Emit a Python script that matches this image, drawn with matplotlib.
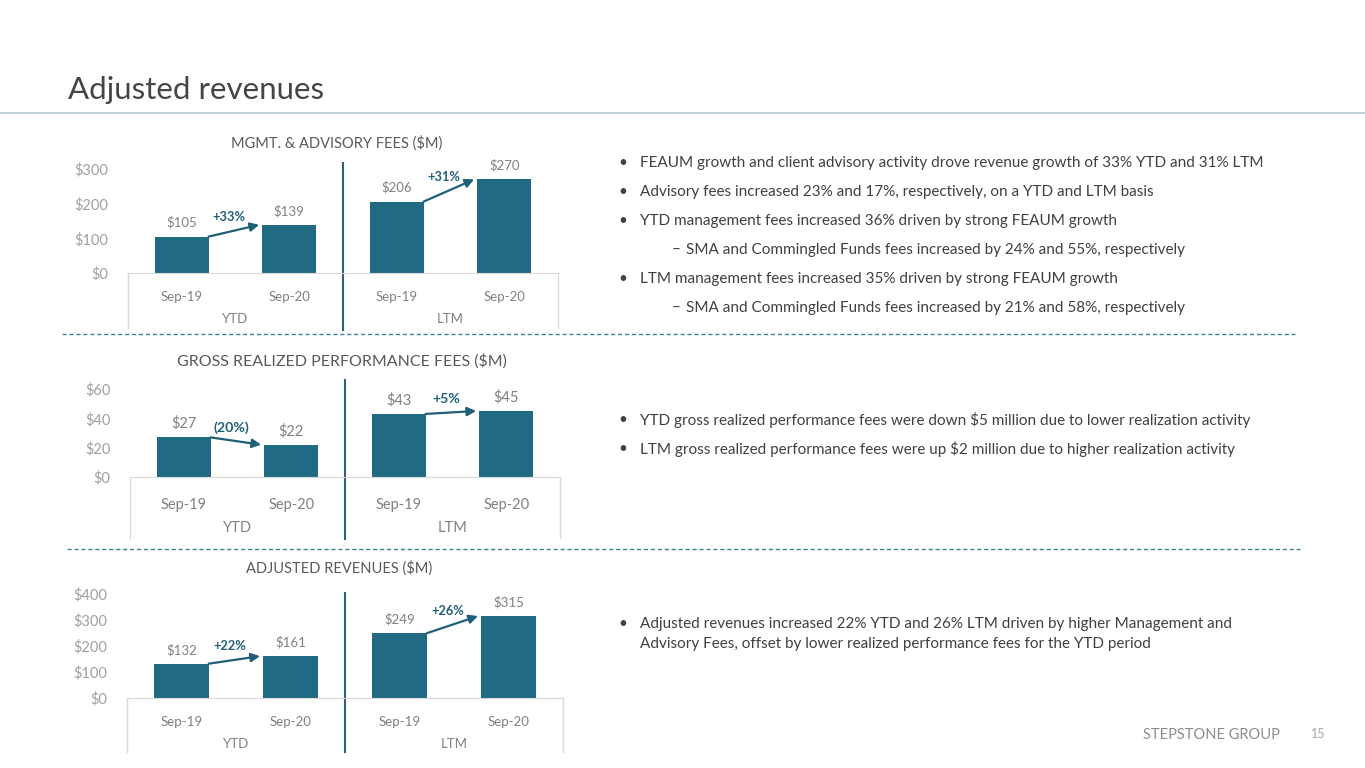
import matplotlib.pyplot as plt

# data
periods = ['Sep-19', 'Sep-20', 'Sep-19', 'Sep-20']
groups = ['YTD', 'LTM']

mgmt_fees = [105, 139, 206, 270]
mgmt_ticks = [0, 100, 200, 300]
mgmt_growth = ['+33%', '+31%']

perf_fees = [27, 22, 43, 45]
perf_ticks = [0, 20, 40, 60]
perf_growth = ['(20%)', '+5%']

adj_rev = [132, 161, 249, 315]
adj_ticks = [0, 100, 200, 300, 400]
adj_growth = ['+22%', '+26%']

bullets_top = [
    ('•', 'FEAUM growth and client advisory activity drove revenue growth of 33% YTD and 31% LTM'),
    ('•', 'Advisory fees increased 23% and 17%, respectively, on a YTD and LTM basis'),
    ('•', 'YTD management fees increased 36% driven by strong FEAUM growth'),
    ('–', 'SMA and Commingled Funds fees increased by 24% and 55%, respectively'),
    ('•', 'LTM management fees increased 35% driven by strong FEAUM growth'),
    ('–', 'SMA and Commingled Funds fees increased by 21% and 58%, respectively'),
]
bullets_mid = [
    ('•', 'YTD gross realized performance fees were down $5 million due to lower realization activity'),
    ('•', 'LTM gross realized performance fees were up $2 million due to higher realization activity'),
]
bullets_bot = [
    ('•', 'Adjusted revenues increased 22% YTD and 26% LTM driven by higher Management and\n'
          'Advisory Fees, offset by lower realized performance fees for the YTD period'),
]

BAR = '#216a84'
ARROW = '#1f5f78'
DIV = '#2b6278'
GRID = '#d9d9d9'
TXT = '#404040'

plt.rcParams['font.family'] = ['Lato', 'DejaVu Sans']

W, H = 1365, 768
fig = plt.figure(figsize=(W / 100, H / 100), dpi=100)


def rect(l, t, r, b):
    return [l / W, 1 - b / H, (r - l) / W, (b - t) / H]


def panel(box, title, title_x, title_y, values, ticks, growth, xpad,
          group_y, box_bottom, div_top, div_bottom, fs, yfs):
    l, t, r, b = box
    hpx = b - t
    ax = fig.add_axes(rect(l, t, r, b))
    xs = list(range(len(values)))
    ax.bar(xs, values, width=0.5, color=BAR, zorder=2)
    ax.set_xlim(-0.5, 3.5)
    ax.set_ylim(0, ticks[-1])
    ax.set_yticks(ticks)
    ax.set_yticklabels([f'${v}' for v in ticks])
    ax.set_xticks(xs)
    ax.set_xticklabels(periods)
    ax.tick_params(length=0)
    ax.tick_params(axis='y', pad=14, labelcolor='#a0a0a0', labelsize=yfs)
    ax.tick_params(axis='x', pad=xpad, labelcolor='#808080', labelsize=fs)
    for s in ['top', 'right', 'left']:
        ax.spines[s].set_visible(False)
    ax.spines['bottom'].set_color(GRID)
    ax.patch.set_alpha(0)

    for i, v in enumerate(values):
        ax.annotate(f'${v}', (i, v), xytext=(0, 10), textcoords='offset points',
                    ha='center', va='center', color='#808080', fontsize=fs)

    for k, i in enumerate([0, 2]):
        v1, v2 = values[i], values[i + 1]
        ax.annotate('', xy=(i + 0.72, v2), xytext=(i + 0.25, v1),
                    arrowprops=dict(arrowstyle='-|>', color=ARROW, lw=1.6,
                                    mutation_scale=13, shrinkA=0, shrinkB=0))
        ax.annotate(growth[k], (i + 0.44, (v1 + v2) / 2), xytext=(0, 10),
                    textcoords='offset points', ha='center', va='center',
                    color=ARROW, fontsize=fs - 0.3, fontweight='bold')

    for gx, g in zip([0.5, 2.5], groups):
        ax.annotate(g, (gx, 0), xycoords=('data', 'axes fraction'),
                    xytext=(0, -(group_y - b) * 0.72), textcoords='offset points',
                    ha='center', va='center', color='#808080', fontsize=fs)

    tr = ax.get_xaxis_transform()
    for xv in [-0.5, 3.5]:
        ax.plot([xv, xv], [0, -(box_bottom - b) / hpx], transform=tr,
                clip_on=False, color=GRID, lw=1)
    ax.plot([1.5, 1.5], [(b - div_top) / hpx, -(div_bottom - b) / hpx],
            transform=tr, clip_on=False, color=DIV, lw=1.5)

    fig.text(title_x / W, 1 - title_y / H, title, ha='center', va='center',
             color='#595959', fontsize=fs + 1)
    return ax


panel((128, 169, 558, 273), 'MGMT. & ADVISORY FEES ($M)', 337, 143,
      mgmt_fees, mgmt_ticks, mgmt_growth, 13, 319, 328, 163, 330, 9.5, 10.5)
panel((130, 389, 560, 477), 'GROSS REALIZED PERFORMANCE FEES ($M)', 342, 361,
      perf_fees, perf_ticks, perf_growth, 15, 528, 538, 380, 539, 10.5, 10.5)
panel((127, 594, 563, 698), 'ADJUSTED REVENUES ($M)', 339, 568,
      adj_rev, adj_ticks, adj_growth, 13, 744, 752, 593, 752, 9.5, 10.5)


def bullet_block(items, ys):
    for (mark, text), y in zip(items, ys):
        if mark == '•':
            bx, tx = 623, 640
        else:
            bx, tx = 676, 686
        fig.text(bx / W, 1 - y / H, mark, ha='center', va='center', color=TXT, fontsize=11)
        fig.text(tx / W, 1 - y / H, text, ha='left', va='center',
                 color=TXT, fontsize=11, linespacing=1.55)


bullet_block(bullets_top, [163, 192, 221, 250, 279, 308])
bullet_block(bullets_mid, [420, 449])
for (mark, text) in bullets_bot:
    fig.text(623 / W, 1 - 624 / H, mark, ha='center', va='center', color=TXT, fontsize=11)
    fig.text(640 / W, 1 - 634 / H, text, ha='left', va='center', color=TXT,
             fontsize=11, linespacing=1.55)

# page title and rules
fig.text(68 / W, 1 - 90 / H, 'Adjusted revenues', ha='left', va='center',
         color='#454545', fontsize=22.5)
fig.add_artist(plt.Line2D([0, 1], [1 - 113 / H] * 2, color='#b4cbd4', lw=1.2))
fig.add_artist(plt.Line2D([62 / W, 1295 / W], [1 - 334 / H] * 2, color='#3f8099',
                          lw=1, linestyle=(0, (3, 2))))
fig.add_artist(plt.Line2D([67 / W, 1300 / W], [1 - 549 / H] * 2, color='#3f8099',
                          lw=1, linestyle=(0, (3, 2))))

fig.text(1211 / W, 1 - 735 / H, 'STEPSTONE GROUP', ha='center', va='center',
         color='#8c8c8c', fontsize=10.5)
fig.text(1318 / W, 1 - 734 / H, '15', ha='center', va='center',
         color='#a6a6a6', fontsize=9)

fig.savefig('out.png', dpi=100)
